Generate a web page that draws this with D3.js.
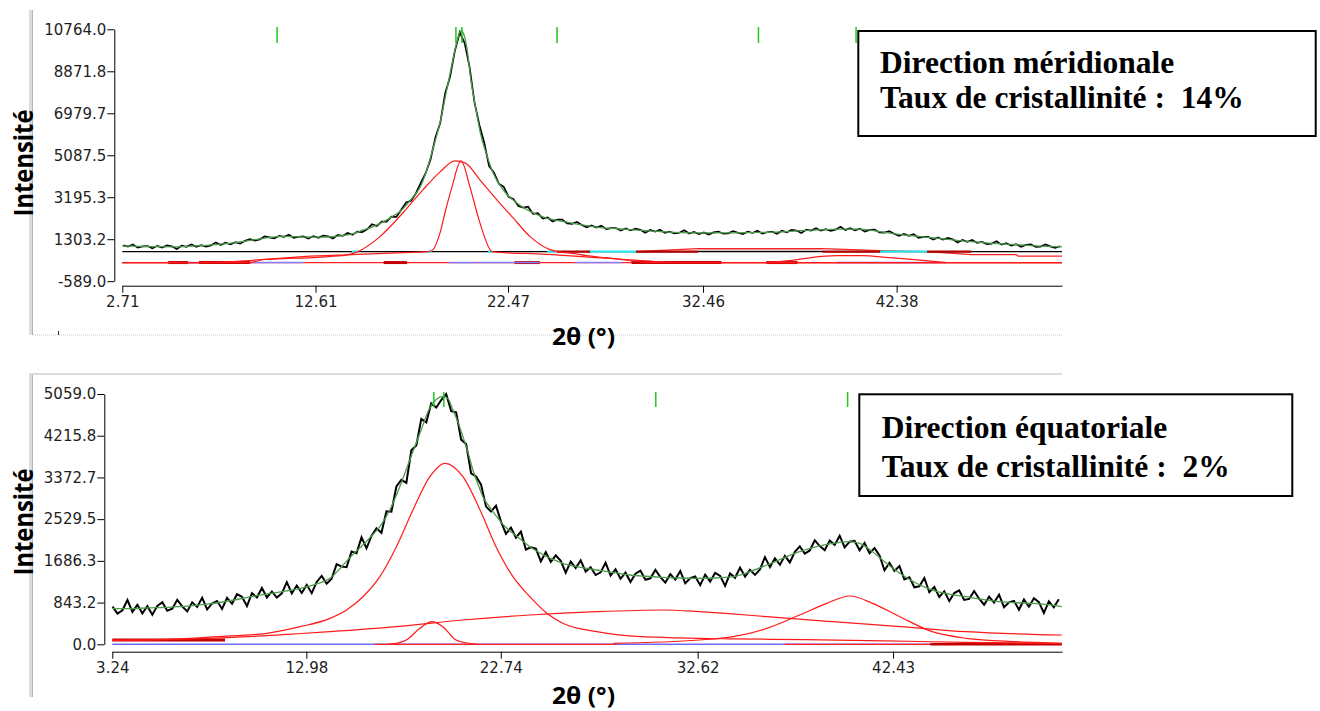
<!DOCTYPE html>
<html><head><meta charset="utf-8">
<script src="https://cdn.jsdelivr.net/npm/d3@7"></script>
<style>
body{margin:0;background:#fff;}
svg{display:block;}
.tick text{font-family:"DejaVu Sans";font-size:15px;fill:#1e1e1e;}
.tick line,.domain{stroke:#000;}
</style></head><body>
<svg id="c" width="1320" height="711"></svg>
<script>
// ---------- TOP PANEL (direction méridionale) ----------
const topTicksX = [2.71, 12.61, 22.47, 32.46, 42.38];
const topTicksY = [10764.0, 8871.8, 6979.7, 5087.5, 3195.3, 1303.2, -589.0];
const topPeakMarks = [10.64, 19.80, 20.11, 24.98, 35.30, 40.30];
const topObsStart = 2.75, topObsStep = 0.25;
const topObs = [
1030,968,1067,925,980,995,890,1005,
924,1022,981,860,1010,960,1070,960,
1035,970,1025,1160,1042,1145,1068,1170,
1102,1235,1308,1240,1294,1429,1383,1341,
1456,1410,1505,1360,1415,1430,1328,1445,
1363,1460,1438,1335,1493,1450,1585,1500,
1645,1625,1750,1975,1900,2100,2100,2325,
2310,2635,2955,3030,3365,3840,4280,4895,
5890,6550,7880,8620,9800,10625,10140,9070,
7480,6460,5660,4600,4305,3810,3667,3213,
3110,2804,2725,2766,2446,2475,2235,2281,
2104,2182,2184,2016,1998,2080,1948,1840,
1923,1830,1914,1758,1802,1805,1689,1793,
1698,1782,1727,1593,1718,1643,1728,1594,
1647,1561,1593,1706,1558,1630,1530,1610,
1510,1610,1650,1550,1570,1670,1594,1538,
1641,1585,1689,1553,1616,1640,1552,1683,
1614,1725,1696,1588,1739,1690,1798,1687,
1755,1683,1732,1860,1720,1800,1700,1780,
1653,1725,1738,1610,1598,1665,1553,1460,
1538,1455,1533,1370,1408,1407,1285,1383,
1282,1360,1298,1155,1273,1190,1274,1137,
1180,1083,1107,1210,1058,1125,1013,1080,
965,1050,1075,960,973,1065,979,913,984];
const topFit = [[2.71,990],[3.5,985],[4.5,965],[5.5,960],[6.5,1000],[7.5,1060],[8.5,1150],[9.5,1280],
[10.3,1390],[11.0,1430],[12.0,1410],[13.0,1400],[14.0,1470],[14.5,1540],[15.0,1700],[15.5,1850],
[16.0,2050],[16.5,2300],[17.0,2600],[17.5,3100],[18.0,3700],[18.3,4400],[18.6,5300],[19.0,6600],
[19.3,7900],[19.6,9200],[19.85,10200],[20.05,10700],[20.2,10550],[20.4,9700],[20.55,8600],[20.8,7300],
[21.05,6100],[21.4,5050],[21.7,4300],[22.2,3550],[22.9,2950],[23.6,2560],[24.4,2270],[25.3,2100],
[26.0,1980],[27.0,1850],[28.7,1740],[30.4,1640],[32.0,1590],[34.0,1590],[36.0,1620],[38.0,1710],
[39.5,1760],[40.5,1760],[41.5,1650],[42.5,1520],[43.5,1430],[45.0,1300],[46.0,1210],[47.5,1110],
[48.5,1060],[49.5,1000],[50.85,960]];
const topBroad = [[2.71,251],[9.3,251],[9.9,386],[11.0,430],[12.5,476],[13.3,521],[14.3,610],[14.78,745],
[15.91,1419],[17.09,2497],[18.11,3531],[18.99,4339],[19.75,4833],[20.27,4743],[21.03,3980],[21.9,3081],
[22.72,2273],[23.6,1419],[24.62,835],[25.0,745],[25.9,650],[26.5,560],[27.5,470],[28.8,330],[29.5,251],[50.85,251]];
const topNarrow = [[2.71,251],[7.0,251],[9.0,330],[10.5,430],[12.0,520],[14.5,610],[16.5,680],[18.4,745],
[18.63,835],[18.99,1599],[19.24,2497],[19.6,3665],[20.06,4833],[20.52,3665],[20.88,2497],[21.19,1599],
[21.65,745],[22.5,690],[24.0,640],[25.5,560],[27.0,476],[28.5,386],[30.0,300],[31.5,251],[50.85,251]];
const topPeak40 = [[35.7,251],[37.3,386],[38.0,476],[39.3,565],[40.6,565],[42.0,476],[43.3,386],[44.9,251]];
const topAmorph = [[29.0,745],[32.2,880],[38.6,880],[41.5,790],[44.0,745],[46.2,610],[48.5,610],[48.6,543],[50.85,543]];
const topBaseLevel = [745];
const topFloorLevel = [251];
const topCyanSegs = [[14.48,14.78],[18.40,18.58],[21.45,21.65],[24.47,24.98],[26.67,29.03],[41.53,43.94]];
const topDarkBaseSegs = [[24.98,26.67],[29.03,32.2],[38.6,41.53],[43.94,46.2]];
const topBlueSegs = [[6.08,6.64],[9.26,11.98],[19.44,20.87],[20.92,24.1],[25.9,28.3],[39.3,44.9]];
const topDarkFloorSegs = [[5.06,6.08],[6.64,9.26],[16.1,17.3],[22.8,24.1],[28.8,33.4],[35.7,37.3]];

// ---------- BOTTOM PANEL (direction équatoriale) ----------
const botTicksX = [3.24, 12.98, 22.74, 32.62, 42.43];
const botTicksY = [5059.0, 4215.8, 3372.7, 2529.5, 1686.3, 843.2, 0.0];
const botPeakMarks = [19.38, 19.88, 30.52, 40.15];
const botObsStart = 3.25, botObsStep = 0.25;
const botObs = [
762,620,687,895,654,798,626,770,
598,777,850,678,719,899,765,665,
850,755,940,705,825,875,715,940,
819,1013,961,770,1033,946,1139,947,
1068,944,1029,1255,1029,1189,1037,1202,
1034,1260,1382,1225,1325,1620,1570,1560,
1876,1842,2161,1940,2190,2345,2253,2690,
2680,3190,3325,3265,3920,4018,4556,4485,
4872,4785,4938,5059,4710,4688,4137,4050,
3453,3393,3225,2783,2684,2800,2479,2233,
2358,2156,2276,1916,1960,1936,1677,1862,
1666,1797,1688,1448,1670,1543,1697,1470,
1558,1400,1454,1649,1389,1514,1324,1448,
1259,1426,1488,1305,1334,1503,1357,1247,
1418,1308,1480,1233,1336,1369,1195,1407,
1268,1445,1382,1180,1432,1344,1549,1369,
1505,1404,1513,1762,1558,1740,1607,1789,
1654,1869,1979,1832,1897,2101,1986,1902,
2098,2010,2195,1959,2074,2093,1901,2046,
1841,1943,1795,1497,1647,1482,1581,1310,
1354,1152,1172,1340,1052,1157,958,1074,
876,1035,1089,898,917,1077,921,800,
961,842,1004,750,849,878,698,904,
760,930,851,632,867,748,909];
const botFit = [[3.24,727],[4.0,720],[5.0,735],[6.0,748],[7.0,770],[8.0,810],[9.0,870],[10.0,945],
[11.0,1017],[12.0,1080],[12.67,1132],[13.5,1220],[14.17,1334],[14.6,1500],[15.0,1680],[15.4,1850],
[15.82,2007],[16.25,2190],[16.67,2377],[17.17,2714],[17.67,3185],[18.17,3725],[18.68,4264],[19.18,4780],
[19.5,4950],[19.85,5010],[20.1,4960],[20.34,4735],[20.6,4480],[20.84,4196],[21.1,3870],[21.34,3523],
[21.6,3230],[21.84,2983],[22.2,2760],[22.54,2579],[22.9,2400],[23.35,2243],[23.8,2100],[24.2,1973],
[24.6,1870],[25.05,1771],[25.45,1700],[25.85,1637],[26.7,1560],[27.55,1502],[28.4,1450],[29.2,1401],
[30.0,1375],[30.88,1354],[31.7,1340],[32.56,1334],[33.5,1340],[34.4,1367],[35.24,1468],[36.1,1603],
[36.9,1738],[37.74,1872],[38.6,1973],[39.4,2041],[40.25,2074],[40.75,2041],[41.4,1872],[42.1,1637],
[42.77,1435],[43.6,1233],[44.4,1097],[45.2,1020],[46.1,962],[47.0,905],[47.8,861],[48.6,840],
[49.4,828],[50.2,800],[50.9,760]];
const botMain = [[3.24,87],[6.0,101],[8.5,154],[11.0,222],[12.67,356],[14.17,525],[15.0,693],[15.82,962],
[16.67,1367],[17.5,1973],[18.33,2714],[19.18,3388],[19.93,3658],[20.84,3388],[21.7,2714],[22.5,1973],
[23.35,1367],[24.2,962],[25.05,626],[25.85,424],[27.55,255],[29.2,170],[31.7,130],[34.2,110],
[38.0,95],[42.0,70],[46.0,40],[50.9,20]];
const botAmorph = [[3.24,80],[6.0,95],[8.0,120],[10.1,154],[12.0,200],[14.17,255],[17.5,356],[20.84,491],
[24.2,592],[27.55,659],[30.9,693],[32.7,660],[34.2,620],[36.1,558],[39.4,457],[42.8,356],[46.1,255],[50.9,188]];
const botSmall = [[17.0,0],[17.5,20],[18.0,87],[18.68,323],[19.28,457],[19.83,356],[20.5,87],[21.15,20],[21.6,0]];
const botPeak40 = [[28.4,20],[32.7,87],[34.4,154],[36.1,323],[37.74,592],[39.1,828],[40.25,976],[41.4,828],
[42.77,558],[44.4,255],[46.1,121],[48.6,53],[50.9,20]];
const botZeroLevel = [0];
const botTailLevel = [88];
const botDarkTailSegs = [[3.24,8.9]];
const botRedZeroSegs = [[16.4,28.5],[37.0,44.3]];
const botDarkZeroSegs = [[44.3,50.9]];

// ---------- DRAWING ----------
const svg = d3.select("#c");
svg.append("rect").attr("width",1320).attr("height",711).attr("fill","#fff");

const panels = [
 {xDomain:[2.71,50.85], xRange:[122.3,1062], yDomain:[-589,10764], yRange:[281.2,29.3],
  yAxisX:114.3, xAxisY:285.7, xTicks:topTicksX, yTicks:topTicksY, marks:topPeakMarks, markY:[27,43],
  obs:topObs, obsStart:topObsStart, obsStep:topObsStep, obsWidth:1.7, fit:topFit,
  comps:[topBroad,topNarrow,topPeak40], frameTop:10, frameBottom:335, labelY:163, xLabelY:345,
  box:{x:858.3,y:31,w:457.4,h:105,lines:["Direction méridionale","Taux de cristallinité :  14%"],base:[72.7,108.3],tx:880}},
 {xDomain:[3.24,50.91], xRange:[112.3,1062], yDomain:[0,5059], yRange:[644.3,394],
  yAxisX:104.3, xAxisY:651.7, xTicks:botTicksX, yTicks:botTicksY, marks:botPeakMarks, markY:[392,407],
  obs:botObs, obsStart:botObsStart, obsStep:botObsStep, obsWidth:2.0, fit:botFit,
  comps:[botMain,botAmorph,botSmall,botPeak40], frameTop:373, frameBottom:697, labelY:522, xLabelY:704,
  box:{x:859.3,y:394.3,w:433,h:101.7,lines:["Direction équatoriale","Taux de cristallinité :  2%"],base:[438.3,476.7],tx:881.7}}
];

panels.forEach((p,pi) => {
  const x = d3.scaleLinear().domain(p.xDomain).range(p.xRange);
  const y = d3.scaleLinear().domain(p.yDomain).range(p.yRange);
  const g = svg.append("g");
  const line = d3.line().x(d=>x(d[0])).y(d=>y(d[1]));
  const smooth = d3.line().x(d=>x(d[0])).y(d=>y(d[1])).curve(d3.curveMonotoneX);
  const seg = (s, lvl) => [[s[0],lvl],[s[1],lvl]];

  // window frame
  if (pi === 0) {
    g.append("rect").attr("x",29).attr("y",p.frameTop).attr("width",3).attr("height",p.frameBottom-p.frameTop).attr("fill","#dcdcdc");
    g.append("line").attr("x1",32.5).attr("x2",32.5).attr("y1",p.frameTop).attr("y2",p.frameBottom).attr("stroke","#b4b4b4");
    g.append("line").attr("x1",33).attr("x2",1062).attr("y1",p.frameBottom).attr("y2",p.frameBottom)
      .attr("stroke","#c4c4c4").attr("stroke-dasharray","1,1");
    g.append("line").attr("x1",58.5).attr("x2",58.5).attr("y1",p.frameBottom-4).attr("y2",p.frameBottom).attr("stroke","#333");
  } else {
    g.append("rect").attr("x",29).attr("y",p.frameTop).attr("width",1033).attr("height",2).attr("fill","#dcdcdc");
    g.append("rect").attr("x",29).attr("y",p.frameTop).attr("width",3).attr("height",p.frameBottom-p.frameTop).attr("fill","#dcdcdc");
    g.append("line").attr("x1",32.5).attr("x2",32.5).attr("y1",p.frameTop+2).attr("y2",p.frameBottom).attr("stroke","#b4b4b4");
  }

  // axes
  g.append("g").attr("transform",`translate(${p.yAxisX},0)`)
    .call(d3.axisLeft(y).tickValues(p.yTicks).tickFormat(d=>d.toFixed(1)).tickSize(7).tickSizeOuter(0).tickPadding(1));
  g.append("g").attr("transform",`translate(0,${p.xAxisY})`)
    .call(d3.axisBottom(x).tickValues(p.xTicks).tickFormat(d=>d.toFixed(2)).tickSize(7).tickSizeOuter(0).tickPadding(4));

  if (pi === 0) {
    const fl = topFloorLevel[0], bl = topBaseLevel[0];
    g.append("path").attr("d",line(seg(p.xDomain,fl))).attr("stroke","#ff2020").attr("stroke-width",1.3).attr("fill","none");
    topDarkFloorSegs.forEach(s=>g.append("path").attr("d",line(seg(s,fl))).attr("stroke","#c00000").attr("stroke-width",3).attr("fill","none"));
    topBlueSegs.forEach(s=>g.append("path").attr("d",line(seg(s,fl))).attr("stroke","#8080ff").attr("stroke-width",1.6).attr("fill","none"));
    const band = topAmorph.filter(d=>d[0]>=32.2 && d[0]<=38.6);
    g.append("path").attr("d",d3.area().x(d=>x(d[0])).y0(y(bl)).y1(d=>y(d[1]))(band)).attr("fill","#d8c4c4");
    g.append("path").attr("d",line(topAmorph)).attr("stroke","#ff2020").attr("stroke-width",1.3).attr("fill","none");
    g.append("path").attr("d",line(seg(p.xDomain,bl))).attr("stroke","#000").attr("stroke-width",1.2).attr("fill","none");
    topCyanSegs.forEach(s=>g.append("path").attr("d",line(seg(s,bl))).attr("stroke","#20e8f0").attr("stroke-width",2).attr("fill","none"));
    topDarkBaseSegs.forEach(s=>g.append("path").attr("d",line(seg(s,bl))).attr("stroke","#b00000").attr("stroke-width",2.2).attr("fill","none"));
  } else {
    const zl = botZeroLevel[0];
    g.append("path").attr("d",line(seg(p.xDomain,zl))).attr("stroke","#6a6aff").attr("stroke-width",1.6).attr("fill","none");
    botRedZeroSegs.forEach(s=>g.append("path").attr("d",line(seg(s,zl))).attr("stroke","#ff2020").attr("stroke-width",1.3).attr("fill","none"));
    botDarkZeroSegs.forEach(s=>g.append("path").attr("d",line(seg(s,zl))).attr("stroke","#c00000").attr("stroke-width",2.5).attr("fill","none"));
    botDarkTailSegs.forEach(s=>g.append("path").attr("d",line(seg(s,botTailLevel[0]))).attr("stroke","#c00000").attr("stroke-width",3).attr("fill","none"));
  }

  // component peaks
  p.comps.forEach(c=>g.append("path").attr("d",smooth(c)).attr("stroke","#ff1a1a").attr("stroke-width",1.2).attr("fill","none"));

  // observed + fit
  const obsPts = p.obs.map((v,i)=>[p.obsStart + i*p.obsStep, v]);
  g.append("path").attr("d",line(obsPts)).attr("stroke","#000").attr("stroke-width",p.obsWidth).attr("fill","none");
  g.append("path").attr("d",smooth(p.fit)).attr("stroke","#4c9c4c").attr("stroke-width",1.3).attr("fill","none");

  // peak position markers
  p.marks.forEach(m=>g.append("line").attr("x1",x(m)).attr("x2",x(m)).attr("y1",p.markY[0]).attr("y2",p.markY[1])
    .attr("stroke","#1ec81e").attr("stroke-width",1.5));

  // axis titles
  g.append("text").attr("transform",`translate(33,${p.labelY}) rotate(-90)`).attr("text-anchor","middle")
    .attr("font-family","Open Sans").attr("font-weight","bold").attr("font-size",27)
    .attr("textLength",107).attr("lengthAdjust","spacingAndGlyphs").text("Intensité");
  g.append("text").attr("x",583.5).attr("y",p.xLabelY).attr("text-anchor","middle")
    .attr("font-family","Open Sans").attr("font-weight","bold").attr("font-size",24)
    .attr("textLength",63).attr("lengthAdjust","spacingAndGlyphs").text("2θ (°)");

  // annotation box
  const b = p.box;
  g.append("rect").attr("x",b.x).attr("y",b.y).attr("width",b.w).attr("height",b.h)
    .attr("fill","#fff").attr("stroke","#000").attr("stroke-width",2);
  b.lines.forEach((t,i)=>g.append("text").attr("x",b.tx).attr("y",b.base[i])
    .attr("font-family","Liberation Serif").attr("font-weight","bold").attr("font-size",31.5)
    .style("white-space","pre").text(t));
});
</script>
</body></html>
